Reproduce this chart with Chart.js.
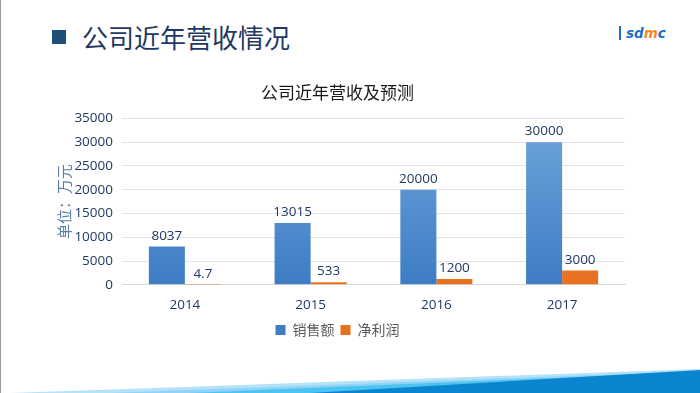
<!DOCTYPE html>
<html>
<head>
<meta charset="utf-8">
<script src="https://cdn.jsdelivr.net/npm/chart.js@4/dist/chart.umd.min.js"></script>
<style>
  body{margin:0;width:700px;height:393px;overflow:hidden;background:#fff;font-family:"Noto Sans CJK SC","Noto Sans",sans-serif;position:relative}
  #edge{position:absolute;left:0;top:0;width:1px;height:393px;background:#9a9a9a}
  #sq{position:absolute;left:52px;top:30px;width:14px;height:14px;background:#1f4e79}
  #head{position:absolute;left:82px;top:18px;font-size:26px;color:#1f3864;letter-spacing:0px}
  #logo{position:absolute;left:619px;top:25px;font:italic bold 13.5px "DejaVu Sans",sans-serif;color:#1b6fc4}
  #logo b{display:inline-block;width:2px;height:14px;background:#1b6fc4;margin-right:5px;vertical-align:-2px}
  #logo span{color:#f08a24}
  #box{position:absolute;left:0;top:0;width:700px;height:393px}
  #wave{position:absolute;left:0;top:0}
</style>
</head>
<body>
<div id="edge"></div>
<div id="sq"></div>
<div id="head">公司近年营收情况</div>
<div id="logo"><b></b>sd<span>m</span>c</div>
<svg id="wave" width="700" height="393">
  <polygon points="10,393 700,369 700,393" fill="#b5e2f9"/>
  <polygon points="110,393 700,371 700,393" fill="#8fd3f6"/>
  <polygon points="190,393 700,372 700,393" fill="#4cc3f1"/>
  <polygon points="310,393 700,370 700,393" fill="#0a86d0"/>
</svg>
<div id="box"><canvas id="myChart"></canvas></div>
<script>
const years=["2014","2015","2016","2017"];
const sales=[8037,13015,20000,30000];
const profit=[4.7,533,1200,3000];
const salesLabels=["8037","13015","20000","30000"];
const profitLabels=["4.7","533","1200","3000"];

function grad(ctx,c1,c2)
{
  const chart=ctx.chart;
  const area=chart.chartArea;
  if(!area) return c2;
  const g=chart.ctx.createLinearGradient(0,area.top,0,area.bottom);
  g.addColorStop(0,c1);
  g.addColorStop(1,c2);
  return g;
}

// write the value above each bar
const valueLabels={
  id:'valueLabels',
  afterDatasetsDraw(chart)
  {
    const c=chart.ctx;
    c.save();
    c.font='13.5px "Open Sans","Noto Sans",sans-serif';
    c.fillStyle='#1f3864';
    c.textAlign='center';
    c.textBaseline='bottom';
    chart.data.datasets.forEach((ds,d)=>{
      const meta=chart.getDatasetMeta(d);
      const txt=d==0?salesLabels:profitLabels;
      meta.data.forEach((bar,i)=>{
        c.fillText(txt[i],bar.x,bar.y-4);
      });
    });
    c.restore();
  }
};

const ctx=document.getElementById('myChart').getContext('2d');
const myChart=new Chart(ctx,{
  type:'bar',
  data:{
    labels:years,
    datasets:[{
      label:'销售额',
      data:sales,
      backgroundColor:(c)=>grad(c,'#6fa5dc','#3d7cc4'),
      borderWidth:0,
      categoryPercentage:0.573,
      barPercentage:1
    },{
      label:'净利润',
      data:profit,
      backgroundColor:(c)=>grad(c,'#f7964a','#e8701f'),
      borderWidth:0,
      categoryPercentage:0.573,
      barPercentage:1
    }]
  },
  options:{
    responsive:true,
    maintainAspectRatio:false,
    animation:false,
    layout:{padding:{left:50,right:75,top:82,bottom:46}},
    plugins:{
      title:{
        display:true,
        text:'公司近年营收及预测',
        color:'#1a1a1a',
        font:{size:17,family:'"Noto Sans CJK SC",sans-serif',weight:'normal'},
        padding:{top:0,bottom:16}
      },
      legend:{
        position:'bottom',
        labels:{
          boxWidth:10,boxHeight:10,
          color:'#595959',
          padding:6,
          font:{size:14,family:'"Noto Sans CJK SC",sans-serif'}
        }
      },
      tooltip:{enabled:false}
    },
    scales:{
      x:{
        grid:{display:false},
        border:{color:'#d9d9d9'},
        ticks:{color:'#1f3864',font:{size:13.5,family:'"Open Sans",sans-serif'},padding:4}
      },
      y:{
        min:0,max:35000,
        afterFit:(scale)=>{scale.width=72;},
        ticks:{stepSize:5000,color:'#1f3864',font:{size:13.5,family:'"Open Sans",sans-serif'},padding:9,
          callback:(v)=>String(v)},
        grid:{color:'#e3e3e3',drawTicks:false},
        border:{display:false},
        title:{display:true,text:'单位：万元',color:'#5b7fa8',font:{size:15,family:'"Noto Sans CJK SC",sans-serif'},padding:5}
      }
    }
  },
  plugins:[valueLabels]
});
</script>
</body>
</html>
